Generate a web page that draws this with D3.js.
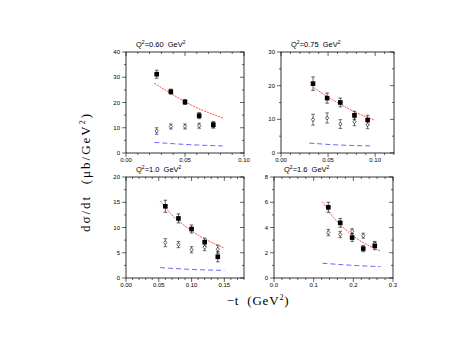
<!DOCTYPE html>
<html>
<head>
<meta charset="utf-8">
<script src="https://cdn.jsdelivr.net/npm/d3@7"></script>
<style>
  body { margin: 0; background: #fff; }
  svg { display: block; }
</style>
</head>
<body>
<div id="chart"></div>
<script>
// one entry per panel: Q2 = 0.60, 0.75, 1.0, 1.6 GeV^2
var q2Labels = ["0.60", "0.75", "1.0", "1.6"];

var tPoints = [
  [0.026, 0.038, 0.050, 0.062, 0.074],
  [0.034, 0.049, 0.063, 0.078, 0.092],
  [0.060, 0.080, 0.100, 0.120, 0.140],
  [0.137, 0.167, 0.197, 0.225, 0.254]
];
var filledVals = [
  [31.2, 24.3, 20.2, 14.8, 11.2],
  [20.6, 16.3, 15.0, 11.2, 9.8],
  [14.2, 11.8, 9.7, 7.1, 4.2],
  [5.6, 4.37, 3.2, 2.33, 2.54]
];
var filledErrs = [
  [1.6, 1.0, 1.0, 1.2, 1.3],
  [2.0, 1.5, 1.3, 1.2, 1.4],
  [1.2, 0.9, 0.8, 0.8, 1.0],
  [0.4, 0.35, 0.3, 0.25, 0.3]
];
var openVals = [
  [8.7, 10.5, 10.5, 10.8, 11.0],
  [9.9, 10.4, 8.6, 9.3, 8.4],
  [7.0, 6.6, 5.6, 6.1, 5.7],
  [3.6, 3.45, 3.7, 3.35, 2.7]
];
var openErrs = [
  [1.3, 1.0, 1.0, 1.0, 1.0],
  [1.6, 1.5, 1.3, 1.2, 1.2],
  [0.8, 0.6, 0.6, 0.7, 0.8],
  [0.25, 0.25, 0.2, 0.2, 0.2]
];
var redT = [
  [0.024, 0.038, 0.050, 0.062, 0.072, 0.082],
  [0.035, 0.050, 0.065, 0.080, 0.099],
  [0.052, 0.070, 0.090, 0.110, 0.130, 0.150],
  [0.122, 0.150, 0.180, 0.210, 0.240, 0.268]
];
var redY = [
  [27.6, 23.6, 20.3, 17.5, 15.6, 13.9],
  [19.4, 16.6, 14.2, 12.0, 9.8],
  [15.3, 12.5, 10.3, 8.5, 7.1, 5.9],
  [6.04, 4.8, 3.85, 3.1, 2.55, 2.15]
];
var blueT = [
  [0.024, 0.050, 0.082],
  [0.030, 0.060, 0.098],
  [0.052, 0.100, 0.150],
  [0.122, 0.200, 0.268]
];
var blueY = [
  [4.2, 3.4, 2.8],
  [2.95, 2.4, 2.1],
  [2.05, 1.7, 1.5],
  [1.17, 1.0, 0.9]
];
var xMax = [0.10, 0.12, 0.18, 0.3];
var yMax = [40, 30, 20, 8];
var xMajor = [0.05, 0.05, 0.05, 0.1];
var xMinor = [0.01, 0.01, 0.01, 0.02];
var yMajor = [10, 10, 5, 2];
var yMinor = [5, 5, 2.5, 1];
var xFmt = [".2f", ".2f", ".2f", ".1f"];

var width = 463, height = 358;
// frame boxes [left, top, right, bottom]
var boxes = [
  [126, 52, 244, 153],
  [281, 52, 394, 153],
  [126, 177, 244, 278],
  [274, 177, 393, 278]
];

var svg = d3.select("#chart").append("svg")
  .attr("width", width)
  .attr("height", height);

function steps(max, step) {
  var out = [];
  var n = Math.round(max / step);
  for (var i = 0; i <= n; i++) out.push(+(i * step).toFixed(6));
  return out;
}

boxes.forEach(function(b, p) {
  var x = d3.scaleLinear().domain([0, xMax[p]]).range([b[0], b[2]]);
  var y = d3.scaleLinear().domain([0, yMax[p]]).range([b[3], b[1]]);
  var g = svg.append("g");

  // frame
  g.append("rect")
    .attr("x", b[0]).attr("y", b[1])
    .attr("width", b[2] - b[0]).attr("height", b[3] - b[1])
    .attr("fill", "none").attr("stroke", "#000").attr("stroke-width", 0.8);

  // x ticks (bottom outward, top inward)
  steps(xMax[p], xMinor[p]).forEach(function(v) {
    var major = Math.abs(v / xMajor[p] - Math.round(v / xMajor[p])) < 1e-6;
    var len = major ? 4 : 2;
    g.append("line").attr("x1", x(v)).attr("x2", x(v))
      .attr("y1", b[3]).attr("y2", b[3] + len)
      .attr("stroke", "#000").attr("stroke-width", 0.6);
    g.append("line").attr("x1", x(v)).attr("x2", x(v))
      .attr("y1", b[1]).attr("y2", b[1] + len)
      .attr("stroke", "#000").attr("stroke-width", 0.6);
    if (major) {
      g.append("text").attr("x", x(v)).attr("y", b[3] + 9)
        .attr("text-anchor", "middle")
        .attr("font-family", "Liberation Sans, Arial, sans-serif")
        .attr("font-size", "6px")
        .text(d3.format(xFmt[p])(v));
    }
  });

  // y ticks (left outward, right inward)
  steps(yMax[p], yMinor[p]).forEach(function(v) {
    var major = Math.abs(v / yMajor[p] - Math.round(v / yMajor[p])) < 1e-6;
    var len = major ? 4 : 2;
    g.append("line").attr("x1", b[0] - len).attr("x2", b[0])
      .attr("y1", y(v)).attr("y2", y(v))
      .attr("stroke", "#000").attr("stroke-width", 0.6);
    g.append("line").attr("x1", b[2] - len).attr("x2", b[2])
      .attr("y1", y(v)).attr("y2", y(v))
      .attr("stroke", "#000").attr("stroke-width", 0.6);
    if (major) {
      g.append("text").attr("x", b[0] - 6).attr("y", y(v) + 2)
        .attr("text-anchor", "end")
        .attr("font-family", "Liberation Sans, Arial, sans-serif")
        .attr("font-size", "6px")
        .text(v);
    }
  });

  // title
  var title = g.append("text")
    .attr("x", b[0] + 10).attr("y", b[1] - 5)
    .attr("font-family", "Liberation Sans, Arial, sans-serif")
    .attr("font-size", "7.5px");
  title.append("tspan").text("Q");
  title.append("tspan").attr("dy", -3).attr("font-size", "5px").text("2");
  title.append("tspan").attr("dy", 3).text("=" + q2Labels[p] + "\u00a0\u00a0GeV");
  title.append("tspan").attr("dy", -3).attr("font-size", "5px").text("2");

  // model curves
  var line = d3.line()
    .x(function(d) { return x(d[0]); })
    .y(function(d) { return y(d[1]); })
    .curve(d3.curveMonotoneX);

  g.append("path")
    .attr("d", line(d3.zip(blueT[p], blueY[p])))
    .attr("fill", "none").attr("stroke", "#5555ff")
    .attr("stroke-width", 0.9).attr("stroke-dasharray", "5,3");

  g.append("path")
    .attr("d", line(d3.zip(redT[p], redY[p])))
    .attr("fill", "none").attr("stroke", "#ff2020")
    .attr("stroke-width", 0.8).attr("stroke-dasharray", "2,1");

  // error bars + markers
  function errBars(vals, errs, col) {
    tPoints[p].forEach(function(t, i) {
      var cx = x(t), lo = y(vals[i] - errs[i]), hi = y(vals[i] + errs[i]);
      g.append("line").attr("x1", cx).attr("x2", cx).attr("y1", lo).attr("y2", hi)
        .attr("stroke", col).attr("stroke-width", 0.7);
      [lo, hi].forEach(function(yy) {
        g.append("line").attr("x1", cx - 1.8).attr("x2", cx + 1.8).attr("y1", yy).attr("y2", yy)
          .attr("stroke", col).attr("stroke-width", 0.7);
      });
    });
  }
  errBars(openVals[p], openErrs[p], "#333");
  errBars(filledVals[p], filledErrs[p], "#222");

  tPoints[p].forEach(function(t, i) {
    var cx = x(t), cy = y(openVals[p][i]);
    g.append("path")
      .attr("d", "M" + cx + "," + (cy - 2) + "L" + (cx + 1.6) + "," + cy + "L" + cx + "," + (cy + 2) + "L" + (cx - 1.6) + "," + cy + "Z")
      .attr("fill", "#fff").attr("stroke", "#000").attr("stroke-width", 0.6);
  });

  tPoints[p].forEach(function(t, i) {
    g.append("rect")
      .attr("x", x(t) - 2.3).attr("y", y(filledVals[p][i]) - 2.3)
      .attr("width", 4.6).attr("height", 4.6)
      .attr("fill", "#000");
  });
});

// axis titles
var ylab = svg.append("text")
  .attr("transform", "translate(90,172) rotate(-90)")
  .attr("text-anchor", "middle")
  .attr("font-family", "Liberation Serif, DejaVu Serif, serif")
  .attr("font-size", "13px")
  .attr("letter-spacing", "2px");
ylab.append("tspan").text("d\u03c3/dt\u00a0\u00a0(\u03bcb/GeV");
ylab.append("tspan").attr("dy", -5).attr("font-size", "8px").text("2");
ylab.append("tspan").attr("dy", 5).text(")");

var xlab = svg.append("text")
  .attr("x", 258).attr("y", 305)
  .attr("text-anchor", "middle")
  .attr("font-family", "Liberation Serif, DejaVu Serif, serif")
  .attr("font-size", "13px")
  .attr("letter-spacing", "0.8px");
xlab.append("tspan").text("\u2212t\u00a0\u00a0(GeV");
xlab.append("tspan").attr("dy", -5).attr("font-size", "8px").text("2");
xlab.append("tspan").attr("dy", 5).text(")");
</script>
</body>
</html>
